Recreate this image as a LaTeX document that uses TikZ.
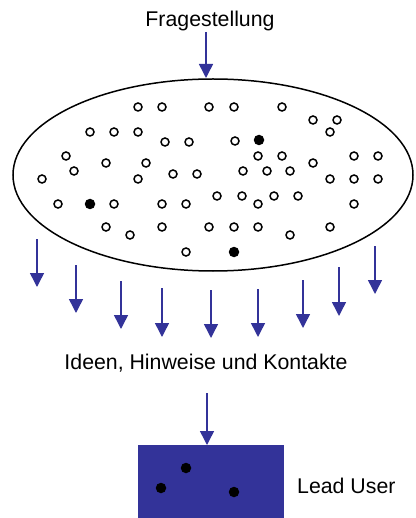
\documentclass[tikz,border=0pt]{standalone}
\usepackage{fontspec}
\setmainfont{Liberation Sans}
\usepackage{tikz}
\usetikzlibrary{positioning,arrows.meta,shapes}
\definecolor{ideablue}{RGB}{51,51,153}
\tikzset{
    x=1pt,
    y=-1pt,
    caption/.style = {
        font=\fontsize{21.3}{25}\selectfont,
        inner sep=2pt
    },
    pool/.style = {
        draw,
        shape=ellipse,
        minimum width=400pt,
        minimum height=192pt,
        inner sep=0pt,
        line width=1.5pt
    },
    ring/.style = {
        draw,
        shape=circle,
        minimum size=8pt,
        inner sep=0pt,
        line width=1.5pt
    },
    seed/.style = {
        fill,
        shape=circle,
        minimum size=10.5pt,
        inner sep=0pt
    },
    leadbox/.style = {
        draw=ideablue,
        fill=ideablue,
        shape=rectangle,
        minimum width=145pt,
        minimum height=80pt,
        inner sep=0pt
    },
    flow/.style = {
        draw=ideablue,
        line width=1.5pt,
        -{Triangle[length=14pt,width=14pt]}
    },
}

\begin{document}
\begin{tikzpicture}
            \useasboundingbox (0,0) rectangle (415,518);

            \node[caption, anchor=base] (frage) at (210,27) {Fragestellung};
            \node[pool] (ideas) at (213,175) {};
            \node[caption, anchor=base] (ideen) at (206,369) {Ideen, Hinweise und Kontakte};
            \node[leadbox, anchor=north west] (lead) at (138,445) {};
            \node[caption, anchor=base west] (leadtext) at (295,493) {Lead User};

            \foreach \px/\py in {138/107,162/107,209/107,234/107,282/107,
                                 313/120,337/120,
                                 90/132,114/132,138/132,330/132,
                                 165/142,189/142,235/141,
                                 66/156,258/156,282/156,354/156,378/156,
                                 106/163,146/163,313/163,
                                 74/171,243/171,267/171,290/171,
                                 173/174,197/174,
                                 42/179,138/179,330/179,354/179,378/179,
                                 217/196,242/196,274/196,298/196,
                                 58/204,114/204,162/204,186/204,258/204,354/204,
                                 106/227,162/227,209/227,234/227,258/227,330/227,
                                 130/235,290/235,
                                 186/252}
                \node[ring] at (\px,\py) {};
            \node[seed] (seed1) at (259,140) {};
            \node[seed] (seed2) at (90,204) {};
            \node[seed] (seed3) at (234,252) {};

            \node[seed] (user1) at (186,468) {};
            \node[seed] (user2) at (161,488) {};
            \node[seed] (user3) at (234,492) {};

            \coordinate (ask) at (206,32);
            \coordinate (top) at (206,78);
            \path[flow] (ask) -- (top);

            \foreach \n/\px/\ya/\yb in {1/37/239/287, 2/76/265/313, 3/121/281/329,
                                       4/162/288/337, 5/211/290/338, 6/258/289/337,
                                       7/303/280/328, 8/339/267/316, 9/375/246/294} {
                \coordinate (out\n) at (\px,\ya);
                \coordinate (hit\n) at (\px,\yb);
                \path[flow] (out\n) -- (hit\n);
            }

            \coordinate (down) at (207,393);
            \path[flow] (down) -- (lead.north -| down);

        \end{tikzpicture}
\end{document}
